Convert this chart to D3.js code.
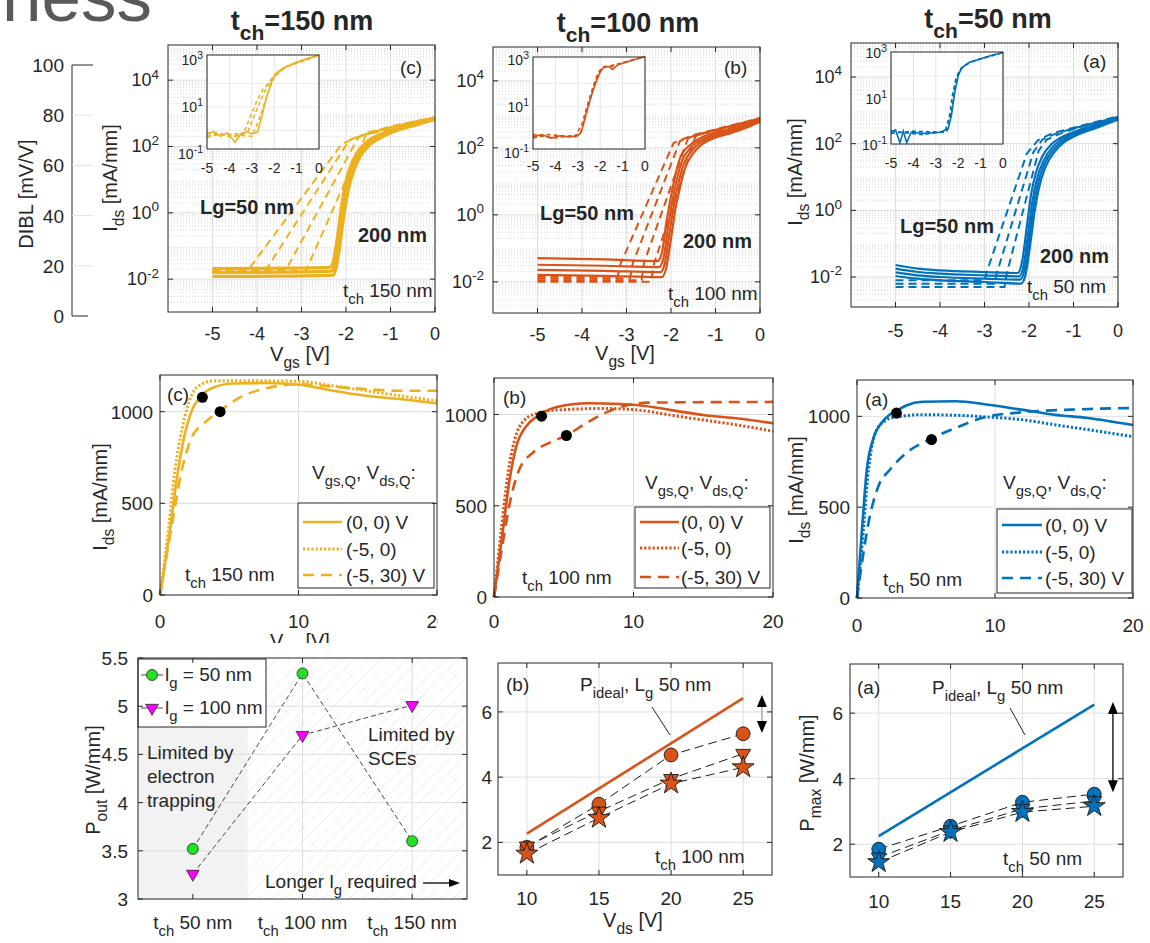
<!DOCTYPE html>
<html>
<head>
<meta charset="utf-8">
<script src="https://cdn.jsdelivr.net/npm/d3@7/dist/d3.min.js"></script>
<style>
  html, body { margin:0; padding:0; background:#ffffff; }
  svg text { font-family: "Liberation Sans", Arial, Helvetica, sans-serif; white-space: pre; }
</style>
</head>
<body>
<svg id="fig" width="1150" height="943" xmlns="http://www.w3.org/2000/svg"></svg>
<script>
// ======================= DATA =======================
const slideWord = "ness";
const panelTitles = ["t_{ch}=150 nm", "t_{ch}=100 nm", "t_{ch}=50 nm"];
const panelTags = ["(c)", "(b)", "(a)"];
const channelLabels = ["t_{ch} 150 nm", "t_{ch} 100 nm", "t_{ch} 50 nm"];
const shortGateLabel = "Lg=50 nm";
const longGateLabel = "200 nm";

const dibTicks = [0, 20, 40, 60, 80, 100];
const vgsTicks = [-5, -4, -3, -2, -1, 0];
const idsLogTicks = [-2, 0, 2, 4];
const insetLogTicks = [-1, 1, 3];
const vdsTicks = [0, 10, 20];
const idsLinTicks = [0, 500, 1000];
const pTicks = [2, 4, 6];
const vdsSweep = [10, 15, 20, 25];
const poutTicks = [3, 3.5, 4, 4.5, 5, 5.5];
const poutCats = [1, 2, 3];
const poutCatLabels = ["t_{ch} 50 nm", "t_{ch} 100 nm", "t_{ch} 150 nm"];

// transfer curves: [Vgs (V), log10 Ids (mA/mm)]
const trC_solid = [
  [[-5,-1.68],[-3.5,-1.67],[-2.36,-1.64],[-2.28,-1.45],[-2.2,-0.8],[-2.1,0.2],[-2.0,0.95],[-1.9,1.4],[-1.75,1.82],[-1.5,2.18],[-1.2,2.38],[-0.8,2.57],[-0.4,2.72],[0,2.86]],
  [[-5,-1.8],[-3.5,-1.79],[-2.33,-1.76],[-2.25,-1.55],[-2.17,-0.9],[-2.07,0.1],[-1.97,0.85],[-1.87,1.3],[-1.72,1.75],[-1.47,2.13],[-1.17,2.35],[-0.77,2.55],[-0.37,2.7],[0,2.84]],
  [[-5,-1.92],[-3.5,-1.91],[-2.3,-1.88],[-2.22,-1.65],[-2.14,-1.0],[-2.04,0.0],[-1.94,0.75],[-1.84,1.2],[-1.69,1.68],[-1.44,2.08],[-1.14,2.32],[-0.74,2.53],[-0.34,2.68],[0,2.82]]
];
const trC_dashed = [
  [[-5,-1.75],[-4.2,-1.72],[-2.09,2.08],[-1.5,2.42],[-1,2.6],[-0.5,2.75],[0,2.88]],
  [[-5,-1.76],[-3.8,-1.72],[-1.92,2.2],[-1.5,2.4],[-1,2.58],[-0.5,2.74],[0,2.87]],
  [[-5,-1.77],[-3.35,-1.72],[-1.72,2.28],[-1.4,2.42],[-1,2.57],[-0.5,2.73],[0,2.86]],
  [[-5,-1.78],[-2.9,-1.74],[-1.55,2.35],[-1.2,2.47],[-0.8,2.6],[-0.4,2.72],[0,2.85]]
];
const trB_solid = [
  [[-5,-1.29],[-3.5,-1.33],[-2.3,-1.38],[-2.2,-1.1],[-2.1,-0.2],[-2.0,0.55],[-1.9,1.2],[-1.78,1.75],[-1.6,2.05],[-1.4,2.25],[-1.1,2.42],[-0.8,2.52],[-0.4,2.7],[0,2.9]],
  [[-5,-1.49],[-3.5,-1.52],[-2.27,-1.56],[-2.17,-1.3],[-2.07,-0.4],[-1.97,0.4],[-1.87,1.05],[-1.75,1.62],[-1.57,1.98],[-1.37,2.2],[-1.07,2.38],[-0.77,2.48],[-0.37,2.66],[0,2.86]],
  [[-5,-1.64],[-3.5,-1.67],[-2.24,-1.71],[-2.14,-1.45],[-2.04,-0.6],[-1.94,0.25],[-1.84,0.9],[-1.72,1.5],[-1.54,1.9],[-1.34,2.15],[-1.04,2.34],[-0.74,2.45],[-0.34,2.62],[0,2.82]],
  [[-5,-1.79],[-3.5,-1.82],[-2.21,-1.86],[-2.11,-1.6],[-2.01,-0.8],[-1.91,0.1],[-1.81,0.75],[-1.69,1.38],[-1.51,1.82],[-1.31,2.1],[-1.01,2.3],[-0.71,2.42],[-0.31,2.6],[0,2.78]]
];
const trB_dashed = [
  [[-5,-1.85],[-3.2,-1.85],[-3.13,-1.45],[-1.94,2.15],[-1.5,2.38],[-1,2.55],[-0.5,2.72],[0,2.88]],
  [[-5,-1.9],[-2.92,-1.9],[-2.86,-1.45],[-1.8,2.2],[-1.4,2.4],[-1,2.54],[-0.5,2.71],[0,2.87]],
  [[-5,-1.95],[-2.66,-1.95],[-2.61,-1.45],[-1.62,2.28],[-1.3,2.42],[-1,2.53],[-0.5,2.7],[0,2.86]],
  [[-5,-2.0],[-2.45,-2.0],[-2.39,-1.5],[-1.45,2.35],[-1.2,2.45],[-0.8,2.56],[-0.4,2.7],[0,2.85]]
];
const trA_solid = [
  [[-5,-1.64],[-4.5,-1.75],[-4,-1.8],[-3,-1.85],[-2.25,-1.88],[-2.15,-1.5],[-2.05,-0.5],[-1.95,0.5],[-1.85,1.1],[-1.7,1.62],[-1.5,1.98],[-1.3,2.17],[-1,2.35],[-0.5,2.58],[0,2.8]],
  [[-5,-1.75],[-4.5,-1.85],[-4,-1.9],[-3,-1.95],[-2.22,-1.98],[-2.12,-1.65],[-2.02,-0.7],[-1.92,0.3],[-1.82,0.95],[-1.67,1.5],[-1.47,1.9],[-1.27,2.12],[-0.97,2.32],[-0.47,2.55],[0,2.77]],
  [[-5,-1.86],[-4.5,-1.95],[-4,-2.0],[-3,-2.05],[-2.2,-2.08],[-2.1,-1.8],[-2.0,-0.9],[-1.9,0.1],[-1.8,0.8],[-1.65,1.4],[-1.45,1.82],[-1.25,2.07],[-0.95,2.28],[-0.45,2.52],[0,2.74]],
  [[-5,-1.97],[-4.5,-2.05],[-4,-2.1],[-3,-2.15],[-2.18,-2.2],[-2.08,-1.95],[-1.98,-1.1],[-1.88,-0.1],[-1.78,0.65],[-1.63,1.3],[-1.43,1.75],[-1.23,2.02],[-0.93,2.25],[-0.43,2.5],[0,2.72]]
];
const trA_dashed = [
  [[-5,-2.1],[-3.0,-2.1],[-2.95,-1.85],[-2.05,1.7],[-1.8,2.1],[-1.5,2.3],[-1,2.48],[-0.5,2.65],[0,2.82]],
  [[-5,-2.2],[-2.78,-2.2],[-2.72,-1.88],[-1.9,1.75],[-1.7,2.12],[-1.4,2.3],[-1,2.46],[-0.5,2.63],[0,2.8]],
  [[-5,-2.3],[-2.55,-2.3],[-2.5,-1.9],[-1.78,1.8],[-1.6,2.12],[-1.3,2.3],[-1,2.44],[-0.5,2.62],[0,2.79]]
];
// inset transfer curves [Vgs, log10 Ids]
const insC_solid = [[[-5,-0.15],[-4.7,-0.05],[-4.4,-0.25],[-4.1,-0.1],[-3.75,-0.5],[-3.5,-0.15],[-3.2,-0.05],[-3,-0.15],[-2.75,-0.08],[-2.55,0.6],[-2.35,1.4],[-2.1,2.1],[-1.9,2.45],[-1.6,2.65],[-1,2.9],[-0.5,3.07],[0,3.2]]];
const insC_dashed = [
  [[-5,-0.25],[-4.5,-0.1],[-4,-0.28],[-3.4,-0.2],[-3.1,0.5],[-2.8,1.2],[-2.5,1.75],[-2.3,1.95],[-2.0,2.35],[-1.5,2.7],[-1,2.9],[0,3.2]],
  [[-5,-0.1],[-4.2,-0.2],[-3.2,-0.1],[-2.9,0.6],[-2.6,1.3],[-2.35,1.8],[-2.1,2.2],[-1.5,2.7],[0,3.2]],
  [[-5,-0.3],[-4.4,-0.15],[-3.0,-0.25],[-2.7,0.4],[-2.45,1.1],[-2.2,1.8],[-2.0,2.3],[-1.5,2.68],[0,3.2]]
];
const insB_solid = [[[-5,-0.3],[-4.6,-0.2],[-4.2,-0.35],[-3.8,-0.25],[-3.4,-0.3],[-3,-0.25],[-2.85,-0.1],[-2.6,0.8],[-2.35,1.6],[-2.15,2.15],[-2.0,2.5],[-1.85,2.68],[-1.6,2.72],[-1.45,2.6],[-1.2,2.8],[-0.6,2.98],[0,3.15]]];
const insB_dashed = [
  [[-5,-0.35],[-4.3,-0.2],[-3.1,-0.3],[-2.8,0.3],[-2.5,1.3],[-2.3,1.9],[-2.1,2.45],[-1.85,2.72],[-1.5,2.72],[-1,2.88],[0,3.15]],
  [[-5,-0.2],[-4.0,-0.35],[-2.9,-0.2],[-2.7,0.4],[-2.4,1.5],[-2.2,2.1],[-2.0,2.5],[-1.8,2.7],[-1,2.88],[0,3.15]]
];
const insA_solid = [[[-5,-0.45],[-4.8,-0.35],[-4.6,-0.9],[-4.45,-0.4],[-4.3,-0.9],[-4.1,-0.45],[-3.5,-0.5],[-2.8,-0.45],[-2.45,-0.3],[-2.3,0.3],[-2.15,1.3],[-2.0,2.0],[-1.85,2.35],[-1.5,2.6],[-1,2.75],[-0.5,2.9],[0,3.02]]];
const insA_dashed = [
  [[-5,-0.5],[-4.0,-0.4],[-2.6,-0.45],[-2.4,0.2],[-2.25,1.2],[-2.1,1.9],[-1.9,2.3],[-1.5,2.58],[-1,2.74],[0,3.02]],
  [[-5,-0.4],[-3.6,-0.55],[-2.5,-0.4],[-2.3,0.4],[-2.15,1.5],[-2.0,2.1],[-1.8,2.4],[-1.4,2.62],[0,3.02]]
];

// output curves: [Vds (V), Ids (mA/mm)]
const outC_solid = [[0,0],[0.72,353],[1.2,625],[1.69,842],[2.29,1005],[2.89,1080],[3.86,1132],[5.3,1154],[7.7,1156],[10.1,1147],[12.5,1114],[14.9,1087],[17.3,1069],[20,1045]];
const outC_dotted = [[0,0],[0.6,353],[1.08,680],[1.57,897],[2.05,1042],[2.65,1132],[3.86,1168],[7.7,1168],[10.1,1165],[12.5,1141],[14.9,1114],[17.3,1087],[20,1060]];
const outC_dashed = [[0,0],[0.96,425],[1.57,680],[2.29,860],[3.13,933],[4.34,1005],[5.78,1078],[7.7,1128],[10.1,1150],[12.5,1136],[14.9,1123],[17.3,1114],[20,1114]];
const outC_q = [[3.06,1078],[4.34,1000]];
const outB_solid = [[0,0],[0.64,366],[1.11,640],[1.59,823],[2.3,935],[3.0,985],[3.5,1010],[4.43,1040],[6.8,1062],[9.17,1057],[10.4,1051],[12.7,1024],[15.1,996],[17.5,978],[20,952]];
const outB_dotted = [[0,0],[0.52,366],[1.0,676],[1.47,859],[2.18,969],[3.0,1005],[4.43,1024],[8,1033],[10.4,1024],[12.7,996],[15.1,969],[17.5,942],[20,908]];
const outB_dashed = [[0,0],[0.64,300],[1.23,550],[1.82,700],[2.77,790],[3.96,845],[5.19,885],[6.56,950],[8,1010],[9.5,1050],[11,1065],[20,1069]];
const outB_q = [[3.41,991],[5.19,885]];
const outA_solid = [[0,0],[0.36,376],[0.71,706],[1.19,880],[1.79,965],[2.38,1010],[2.86,1030],[3.57,1060],[4.76,1080],[7.14,1083],[9.5,1064],[11.9,1037],[14.3,1009],[16.7,991],[20,952]];
const outA_dotted = [[0,0],[0.36,284],[0.83,706],[1.43,927],[2.02,975],[2.86,996],[4.76,1009],[7.14,1006],[9.5,996],[11.9,982],[14.3,954],[16.7,927],[20,888]];
const outA_dashed = [[0,0],[0.36,193],[0.83,413],[1.55,615],[2.38,706],[3.57,798],[5.24,872],[7.14,936],[9.05,991],[11.9,1022],[15.5,1037],[20,1046]];
const outA_q = [[2.86,1018],[5.4,872]];
const legendLabels = ["(0, 0) V", "(-5, 0)", "(-5, 30) V"];
const quiescentHeader = "V_{gs,Q}, V_{ds,Q}:";

// power vs Vds (W/mm)
const pb_ideal = [[10,2.27],[25,6.42]];
const pb_circle = [1.85, 3.17, 4.68, 5.33];
const pb_tri = [1.88, 2.95, 3.95, 4.72];
const pb_star = [1.65, 2.75, 3.8, 4.3];
const pa_ideal = [[10,2.25],[25,6.26]];
const pa_circle = [1.85, 2.55, 3.28, 3.53];
const pa_tri = [1.6, 2.42, 3.08, 3.32];
const pa_star = [1.45, 2.37, 2.98, 3.16];
const idealLabel = "P_{ideal}, L_{g} 50 nm";

// Pout vs tch
const pout_lg50 = [3.52, 5.34, 3.60];
const pout_lg100 = [3.26, 4.70, 5.01];
const poutLegend = ["l_{g} = 50 nm", "l_{g} = 100 nm"];

// ======================= DRAWING =======================
const svg = d3.select("#fig");
const INK = "#262626";
const GRID = "#dedede";
const COL = { y: "#EDB120", o: "#D95319", b: "#0072BD" };

function rich(g, x, y, str, o = {}) {
  const fs = o.size || 19;
  const t = g.append("text").attr("x", x).attr("y", y)
    .attr("font-size", fs).attr("fill", o.fill || INK)
    .attr("text-anchor", o.anchor || "start")
    .attr("font-weight", o.weight || "normal");
  if (o.transform) t.attr("transform", o.transform);
  const parts = str.split(/(_\{[^}]*\}|\^\{[^}]*\})/).filter(s => s.length);
  let shift = 0;
  parts.forEach(p => {
    let target = 0, txt = p, sz = fs;
    if (p.startsWith("_{")) { target = fs * 0.36; txt = p.slice(2, -1); sz = fs * 0.78; }
    else if (p.startsWith("^{")) { target = -fs * 0.42; txt = p.slice(2, -1); sz = fs * 0.75; }
    t.append("tspan").attr("dy", (target - shift).toFixed(2)).attr("font-size", sz).text(txt);
    shift = target;
  });
  return t;
}
function vlabel(g, bx, cy, str, size) {
  return rich(g, 0, 0, str, { size: size || 20, anchor: "middle", transform: `translate(${bx},${cy}) rotate(-90)` });
}
function box(g, f, fill, stroke, w) {
  return g.append("rect").attr("x", f[0]).attr("y", f[2]).attr("width", f[1] - f[0]).attr("height", f[3] - f[2])
    .attr("fill", fill).attr("stroke", stroke || "none").attr("stroke-width", w || 1);
}
function seg(g, x1, y1, x2, y2, color, w, dash) {
  const l = g.append("line").attr("x1", x1).attr("y1", y1).attr("x2", x2).attr("y2", y2)
    .attr("stroke", color).attr("stroke-width", w || 1);
  if (dash) l.attr("stroke-dasharray", dash);
  return l;
}
function ticks(g, f, xs, ys, len) {
  xs.forEach(px => { seg(g, px, f[3], px, f[3] - len, INK, 1); seg(g, px, f[2], px, f[2] + len, INK, 1); });
  ys.forEach(py => { seg(g, f[0], py, f[0] + len, py, INK, 1); seg(g, f[1], py, f[1] - len, py, INK, 1); });
}

// ---- slide residue + DIBL axis ----
(function () {
  const g = svg.append("g");
  rich(g, 2, 21, slideWord, { size: 71, fill: "#595959" });
  const y = d3.scaleLinear().domain([0, 100]).range([316, 65]);
  seg(g, 72, y(0), 72, y(100), INK, 1);
  dibTicks.forEach(v => {
    const end = (v === 0 || v === 100);
    seg(g, 72, y(v), 72 + (v === 0 ? 16 : 21), y(v), end ? INK : "#e2e2e2", 1);
    rich(g, 64, y(v) + 7, String(v), { size: 19, anchor: "end" });
  });
  vlabel(g, 33, 194, "DIBL [mV/V]", 20);
})();

// ---- top row: transfer characteristics ----
function transferPanel(P) {
  const g = svg.append("g");
  const f = P.f;
  const x = d3.scaleLinear().domain([-6, 0]).range([f[0], f[1]]);
  const y = d3.scaleLog().domain(P.yd.map(v => Math.pow(10, v))).range([f[3], f[2]]);
  box(g, f, "#fff");
  const minor = [];
  for (let d = -4; d <= 5; d++) for (let k = 2; k <= 9; k++) {
    const lv = Math.log10(k * Math.pow(10, d));
    if (lv > P.yd[0] && lv < P.yd[1]) minor.push(k * Math.pow(10, d));
  }
  minor.forEach(v => seg(g, f[0], y(v), f[1], y(v), "#cfcfcf", 0.8, "1,2"));
  idsLogTicks.forEach(v => seg(g, f[0], y(Math.pow(10, v)), f[1], y(Math.pow(10, v)), GRID, 1));
  vgsTicks.forEach(v => seg(g, x(v), f[2], x(v), f[3], GRID, 1));
  const ln = d3.line().x(d => x(d[0])).y(d => y(Math.pow(10, d[1])));
  P.dashed.forEach(c => g.append("path").attr("d", ln.curve(d3.curveLinear)(c)).attr("fill", "none")
    .attr("stroke", P.color).attr("stroke-width", 2).attr("stroke-dasharray", "8,5"));
  P.solid.forEach(c => g.append("path").attr("d", ln.curve(d3.curveMonotoneX)(c)).attr("fill", "none")
    .attr("stroke", P.color).attr("stroke-width", P.sw));
  box(g, f, "none", INK, 1);
  ticks(g, f, vgsTicks.map(x), idsLogTicks.map(v => y(Math.pow(10, v))), 5);
  vgsTicks.forEach(v => rich(g, x(v), P.xlabY, String(v), { size: 18, anchor: "middle" }));
  idsLogTicks.forEach(v => rich(g, f[0] - 9, y(Math.pow(10, v)) + 6, "10^{" + v + "}", { size: 18, anchor: "end" }));
  if (P.ylab) vlabel(g, P.ylab[0], P.ylab[1], "I_{ds} [mA/mm]", 20);
  if (P.xtitle) rich(g, P.xtitle[0], P.xtitle[1], "V_{gs} [V]", { size: 20, anchor: "middle" });
  rich(g, P.title[0], P.title[1], P.titleText, { size: 27, anchor: "middle", weight: "bold" });
  rich(g, P.tag[0], P.tag[1], P.tagText, { size: 19 });
  rich(g, P.lg[0], P.lg[1], shortGateLabel, { size: 20, weight: "bold" });
  rich(g, P.l200[0], P.l200[1], longGateLabel, { size: 20, weight: "bold" });
  rich(g, P.tch[0], P.tch[1], P.tchText, { size: 19 });
  // inset
  const I = P.inset, fi = I.f;
  const xi = d3.scaleLinear().domain([-5, 0]).range([fi[0], fi[1]]);
  const yi = d3.scaleLog().domain(I.yd.map(v => Math.pow(10, v))).range([fi[3], fi[2]]);
  box(g, fi, "#fff");
  vgsTicks.forEach(v => seg(g, xi(v), fi[2], xi(v), fi[3], "#e4e4e4", 1));
  [0, 1, 2].forEach(v => seg(g, fi[0], yi(Math.pow(10, v)), fi[1], yi(Math.pow(10, v)), "#ececec", 1));
  const li = d3.line().x(d => xi(d[0])).y(d => yi(Math.pow(10, d[1])));
  I.dashed.forEach(c => g.append("path").attr("d", li.curve(d3.curveLinear)(c)).attr("fill", "none")
    .attr("stroke", P.color).attr("stroke-width", 1.6).attr("stroke-dasharray", "4,3"));
  I.solid.forEach(c => g.append("path").attr("d", li.curve(d3.curveLinear)(c)).attr("fill", "none")
    .attr("stroke", P.color).attr("stroke-width", 1.6));
  box(g, fi, "none", INK, 1);
  vgsTicks.forEach(v => rich(g, xi(v), I.xlabY, String(v), { size: 14, anchor: "middle" }));
  insetLogTicks.forEach(v => rich(g, fi[0] - 4, yi(Math.pow(10, v)) + 5, "10^{" + v + "}", { size: 14, anchor: "end" }));
}

const topCfg = [
  { f: [168, 435, 45, 312], yd: [-2.99, 5.06], color: COL.y, solid: trC_solid, dashed: trC_dashed, sw: 3.2,
    xlabY: 340, ylab: [117, 178], xtitle: [300, 361], title: [302, 30], titleText: panelTitles[0],
    tag: [400, 74], tagText: panelTags[0], lg: [200, 214], l200: [358, 242], tch: [343, 297], tchText: channelLabels[0],
    inset: { f: [207, 319, 55, 149], yd: [-0.79, 3.21], solid: insC_solid, dashed: insC_dashed, xlabY: 173 } },
  { f: [493, 760, 47, 313], yd: [-2.93, 5.01], color: COL.o, solid: trB_solid, dashed: trB_dashed, sw: 2.2,
    xlabY: 341, ylab: null, xtitle: [625, 360], title: [628, 32], titleText: panelTitles[1],
    tag: [724, 74], tagText: panelTags[1], lg: [540, 220], l200: [683, 248], tch: [668, 300], tchText: channelLabels[1],
    inset: { f: [533, 645, 57, 149], yd: [-0.82, 3.13], solid: insB_solid, dashed: insB_dashed, xlabY: 171 } },
  { f: [851, 1118, 43, 307], yd: [-2.9, 5.02], color: COL.b, solid: trA_solid, dashed: trA_dashed, sw: 2.2,
    xlabY: 337, ylab: [802, 172], xtitle: null, title: [988, 28], titleText: panelTitles[2],
    tag: [1083, 68], tagText: panelTags[2], lg: [900, 233], l200: [1040, 263], tch: [1027, 293], tchText: channelLabels[2],
    inset: { f: [891, 1003, 52, 144], yd: [-0.96, 3.04], solid: insA_solid, dashed: insA_dashed, xlabY: 168 } }
];
topCfg.forEach(transferPanel);

// ---- middle row: output characteristics ----
function outputPanel(P) {
  const g = svg.append("g");
  const f = P.f;
  const x = d3.scaleLinear().domain([0, 20]).range([f[0], f[1]]);
  const y = d3.scaleLinear().domain([0, 1200]).range([f[3], f[2]]);
  box(g, f, "#fff");
  seg(g, x(10), f[2], x(10), f[3], GRID, 1);
  [500, 1000].forEach(v => seg(g, f[0], y(v), f[1], y(v), GRID, 1));
  const ln = d3.line().x(d => x(d[0])).y(d => y(d[1])).curve(d3.curveMonotoneX);
  const styles = [["", 2.6], ["2.2,2", 3], ["11,7", 2.6]];
  [P.solid, P.dotted, P.dashed].forEach((c, i) => {
    const p = g.append("path").attr("d", ln(c)).attr("fill", "none").attr("stroke", P.color).attr("stroke-width", styles[i][1]);
    if (styles[i][0]) p.attr("stroke-dasharray", styles[i][0]);
  });
  P.q.forEach(d => g.append("circle").attr("cx", x(d[0])).attr("cy", y(d[1])).attr("r", 5.5).attr("fill", "#000"));
  // legend
  const L = P.leg;
  box(g, L.f, "#fff", INK, 1);
  legendLabels.forEach((t, i) => {
    const s = seg(g, L.s[0], L.rows[i], L.s[1], L.rows[i], P.color, styles[i][1]);
    if (styles[i][0]) s.attr("stroke-dasharray", styles[i][0]);
    rich(g, L.tx, L.rows[i] + 7, t, { size: 19 });
  });
  box(g, f, "none", INK, 1);
  ticks(g, f, vdsTicks.map(x), idsLinTicks.map(y), 5);
  vdsTicks.forEach(v => rich(g, x(v), P.xlabY, String(v), { size: 19, anchor: "middle" }));
  idsLinTicks.forEach(v => rich(g, f[0] - 7, y(v) + 7, String(v), { size: 19, anchor: "end" }));
  if (P.ylab) vlabel(g, P.ylab[0], P.ylab[1], "I_{ds} [mA/mm]", 20);
  if (P.xtitle) rich(g, P.xtitle[0], P.xtitle[1], "V_{ds} [V]", { size: 20, anchor: "middle" });
  rich(g, P.tag[0], P.tag[1], P.tagText, { size: 19 });
  rich(g, P.hdr[0], P.hdr[1], quiescentHeader, { size: 19 });
  rich(g, P.tch[0], P.tch[1], P.tchText, { size: 19 });
}
const midCfg = [
  { f: [160, 437, 375, 595], color: COL.y, solid: outC_solid, dotted: outC_dotted, dashed: outC_dashed, q: outC_q,
    xlabY: 628, ylab: [107, 497], xtitle: [300, 648], tag: [167, 401], tagText: panelTags[0], hdr: [312, 479],
    tch: [185, 581], tchText: channelLabels[0],
    leg: { f: [298, 434, 503, 588], rows: [522, 549, 575], s: [303, 342], tx: 346 } },
  { f: [494, 773, 378, 597], color: COL.o, solid: outB_solid, dotted: outB_dotted, dashed: outB_dashed, q: outB_q,
    xlabY: 628, ylab: null, xtitle: null, tag: [503, 404], tagText: panelTags[1], hdr: [645, 489],
    tch: [522, 584], tchText: channelLabels[1],
    leg: { f: [635, 770, 507, 588], rows: [522, 548, 577], s: [640, 679], tx: 681 } },
  { f: [857, 1133, 380, 598], color: COL.b, solid: outA_solid, dotted: outA_dotted, dashed: outA_dashed, q: outA_q,
    xlabY: 632, ylab: [803, 490], xtitle: null, tag: [865, 406], tagText: panelTags[2], hdr: [1003, 489],
    tch: [883, 586], tchText: channelLabels[2],
    leg: { f: [997, 1132, 509, 593], rows: [525, 552, 578], s: [1002, 1042], tx: 1045 } }
];
outputPanel(midCfg[0]);
// figure-fragment cut edges
box(svg, [438, 492, 606, 641], "#fff");
box(svg, [120, 470, 643, 657], "#fff");
outputPanel(midCfg[1]);
outputPanel(midCfg[2]);

// ---- bottom left: Pout vs channel thickness ----
(function () {
  const g = svg.append("g");
  const f = [138, 467, 658, 899];
  const x = d3.scaleLinear().domain([0.5, 3.5]).range([f[0], f[1]]);
  const y = d3.scaleLinear().domain([3, 5.5]).range([f[3], f[2]]);
  const defs = svg.append("defs");
  const pat = defs.append("pattern").attr("id", "hatch").attr("patternUnits", "userSpaceOnUse").attr("width", 13).attr("height", 13);
  pat.append("path").attr("d", "M-3,3 L3,-3 M0,13 L13,0 M10,16 L16,10").attr("stroke", "#cdcdcd").attr("stroke-width", 0.7).attr("stroke-dasharray", "1.5,1.5");
  box(g, f, "#fff");
  box(g, [f[0], x(1.5), f[2], f[3]], "#f2f2f2");
  box(g, [x(1.5), f[1], f[2], f[3]], "url(#hatch)");
  [3.5, 4, 4.5, 5].forEach(v => seg(g, f[0], y(v), f[1], y(v), GRID, 1));
  [2, 3].forEach(v => seg(g, x(v), f[2], x(v), f[3], GRID, 1));
  const ln = d3.line().x((d, i) => x(poutCats[i])).y(d => y(d));
  [pout_lg50, pout_lg100].forEach(s => g.append("path").attr("d", ln(s)).attr("fill", "none")
    .attr("stroke", "#333").attr("stroke-width", 0.9).attr("stroke-dasharray", "5,3"));
  const tri = d3.symbol().type(d3.symbolTriangle).size(70);
  pout_lg50.forEach((v, i) => g.append("circle").attr("cx", x(poutCats[i])).attr("cy", y(v)).attr("r", 5.5)
    .attr("fill", "#22e022").attr("stroke", "#2a2a2a").attr("stroke-width", 0.8));
  pout_lg100.forEach((v, i) => g.append("path").attr("d", tri()).attr("transform", `translate(${x(poutCats[i])},${y(v)}) rotate(180)`)
    .attr("fill", "#ff00ff").attr("stroke", "#2a2a2a").attr("stroke-width", 0.8));
  // annotations
  rich(g, 147, 759, "Limited by", { size: 19 });
  rich(g, 147, 783, "electron", { size: 19 });
  rich(g, 147, 807, "trapping", { size: 19 });
  rich(g, 368, 741, "Limited by", { size: 19 });
  rich(g, 368, 765, "SCEs", { size: 19 });
  rich(g, 265, 888, "Longer l_{g} required", { size: 19 });
  seg(g, 423, 883, 452, 883, "#000", 1.3);
  g.append("path").attr("d", "M460,883 L449,879 L449,887 Z").attr("fill", "#000");
  // legend
  box(g, [138, 266, 659, 727], "#fff", INK, 1);
  [675, 708].forEach((ry, i) => {
    seg(g, 141, ry, 163, ry, "#333", 0.9);
    if (i === 0) g.append("circle").attr("cx", 152).attr("cy", ry).attr("r", 5.5).attr("fill", "#22e022").attr("stroke", "#2a2a2a").attr("stroke-width", 0.8);
    else g.append("path").attr("d", tri()).attr("transform", `translate(152,${ry}) rotate(180)`).attr("fill", "#ff00ff").attr("stroke", "#2a2a2a").attr("stroke-width", 0.8);
    rich(g, 165, ry + 6, poutLegend[i], { size: 19 });
  });
  box(g, f, "none", INK, 1);
  ticks(g, f, poutCats.map(x), poutTicks.map(y), 5);
  poutTicks.forEach(v => rich(g, 128, y(v) + 7, String(v), { size: 19, anchor: "end" }));
  poutCats.forEach((c, i) => rich(g, x(c), 929, poutCatLabels[i], { size: 19, anchor: "middle" }));
  vlabel(g, 100, 780, "P_{out} [W/mm]", 20);
})();

// ---- bottom middle/right: power vs Vds ----
function powerPanel(P) {
  const g = svg.append("g");
  const f = P.f;
  const x = d3.scaleLinear().domain([8, 27]).range([f[0], f[1]]);
  const y = d3.scaleLinear().domain([1, 7.5]).range([f[3], f[2]]);
  box(g, f, "#fff");
  vdsSweep.forEach(v => seg(g, x(v), f[2], x(v), f[3], GRID, 1));
  pTicks.forEach(v => seg(g, f[0], y(v), f[1], y(v), GRID, 1));
  const li = d3.line().x(d => x(d[0])).y(d => y(d[1]));
  g.append("path").attr("d", li(P.ideal)).attr("fill", "none").attr("stroke", P.color).attr("stroke-width", 2.6);
  const ln = d3.line().x((d, i) => x(vdsSweep[i])).y(d => y(d));
  [P.circ, P.tri, P.star].forEach(s => g.append("path").attr("d", ln(s)).attr("fill", "none")
    .attr("stroke", "#1a1a1a").attr("stroke-width", 1).attr("stroke-dasharray", "9,5"));
  const symC = d3.symbol().type(d3.symbolCircle).size(150);
  const symT = d3.symbol().type(d3.symbolTriangle).size(95);
  const symS = d3.symbol().type(d3.symbolStar).size(150);
  const mk = (s, sym, rot) => s.forEach((v, i) => g.append("path").attr("d", sym())
    .attr("transform", `translate(${x(vdsSweep[i])},${y(v)}) rotate(${rot})`)
    .attr("fill", P.color).attr("stroke", "#1a1a1a").attr("stroke-width", 0.9));
  mk(P.circ, symC, 0); mk(P.tri, symT, 180); mk(P.star, symS, 0);
  // annotations
  rich(g, P.tag[0], P.tag[1], P.tagText, { size: 19 });
  rich(g, P.pid[0], P.pid[1], idealLabel, { size: 19 });
  seg(g, P.leader[0], P.leader[1], P.leader[2], P.leader[3], "#222", 1);
  rich(g, P.tch[0], P.tch[1], P.tchText, { size: 19 });
  const ax = x(P.arrow.x), a1 = y(P.arrow.y[0]), a2 = y(P.arrow.y[1]);
  seg(g, ax, a1 + 8, ax, a2 - 8, P.arrow.shaft, 1.3);
  g.append("path").attr("d", `M${ax},${a1} L${ax - 5},${a1 + 12} L${ax + 5},${a1 + 12} Z`).attr("fill", "#000");
  g.append("path").attr("d", `M${ax},${a2} L${ax - 5},${a2 - 12} L${ax + 5},${a2 - 12} Z`).attr("fill", "#000");
  box(g, f, "none", INK, 1);
  ticks(g, f, vdsSweep.map(x), pTicks.map(y), 5);
  vdsSweep.forEach(v => rich(g, x(v), P.xlabY, String(v), { size: 19, anchor: "middle" }));
  pTicks.forEach(v => rich(g, P.ylabA, y(v) + 7, String(v), { size: 19, anchor: "end" }));
  if (P.xtitle) rich(g, P.xtitle[0], P.xtitle[1], "V_{ds} [V]", { size: 20, anchor: "middle" });
  if (P.ylab) vlabel(g, P.ylab[0], P.ylab[1], "P_{max} [W/mm]", 20);
}
powerPanel({ f: [498, 772, 663, 875], color: COL.o, ideal: pb_ideal, circ: pb_circle, tri: pb_tri, star: pb_star,
  xlabY: 905, ylabA: 492, tag: [506, 691], tagText: panelTags[1], pid: [580, 691], leader: [652, 707, 670, 735],
  arrow: { x: 26.3, y: [6.52, 5.35], shaft: "#9a9a9a" }, tch: [655, 863], tchText: channelLabels[1],
  xtitle: [633, 927], ylab: null });
powerPanel({ f: [850, 1123, 664, 877], color: COL.b, ideal: pa_ideal, circ: pa_circle, tri: pa_tri, star: pa_star,
  xlabY: 908, ylabA: 843, tag: [857, 694], tagText: panelTags[2], pid: [932, 694], leader: [1010, 708, 1025, 735],
  arrow: { x: 26.3, y: [6.34, 3.59], shaft: "#000" }, tch: [1003, 865], tchText: channelLabels[2],
  xtitle: null, ylab: [814, 773] });
</script>
</body>
</html>
